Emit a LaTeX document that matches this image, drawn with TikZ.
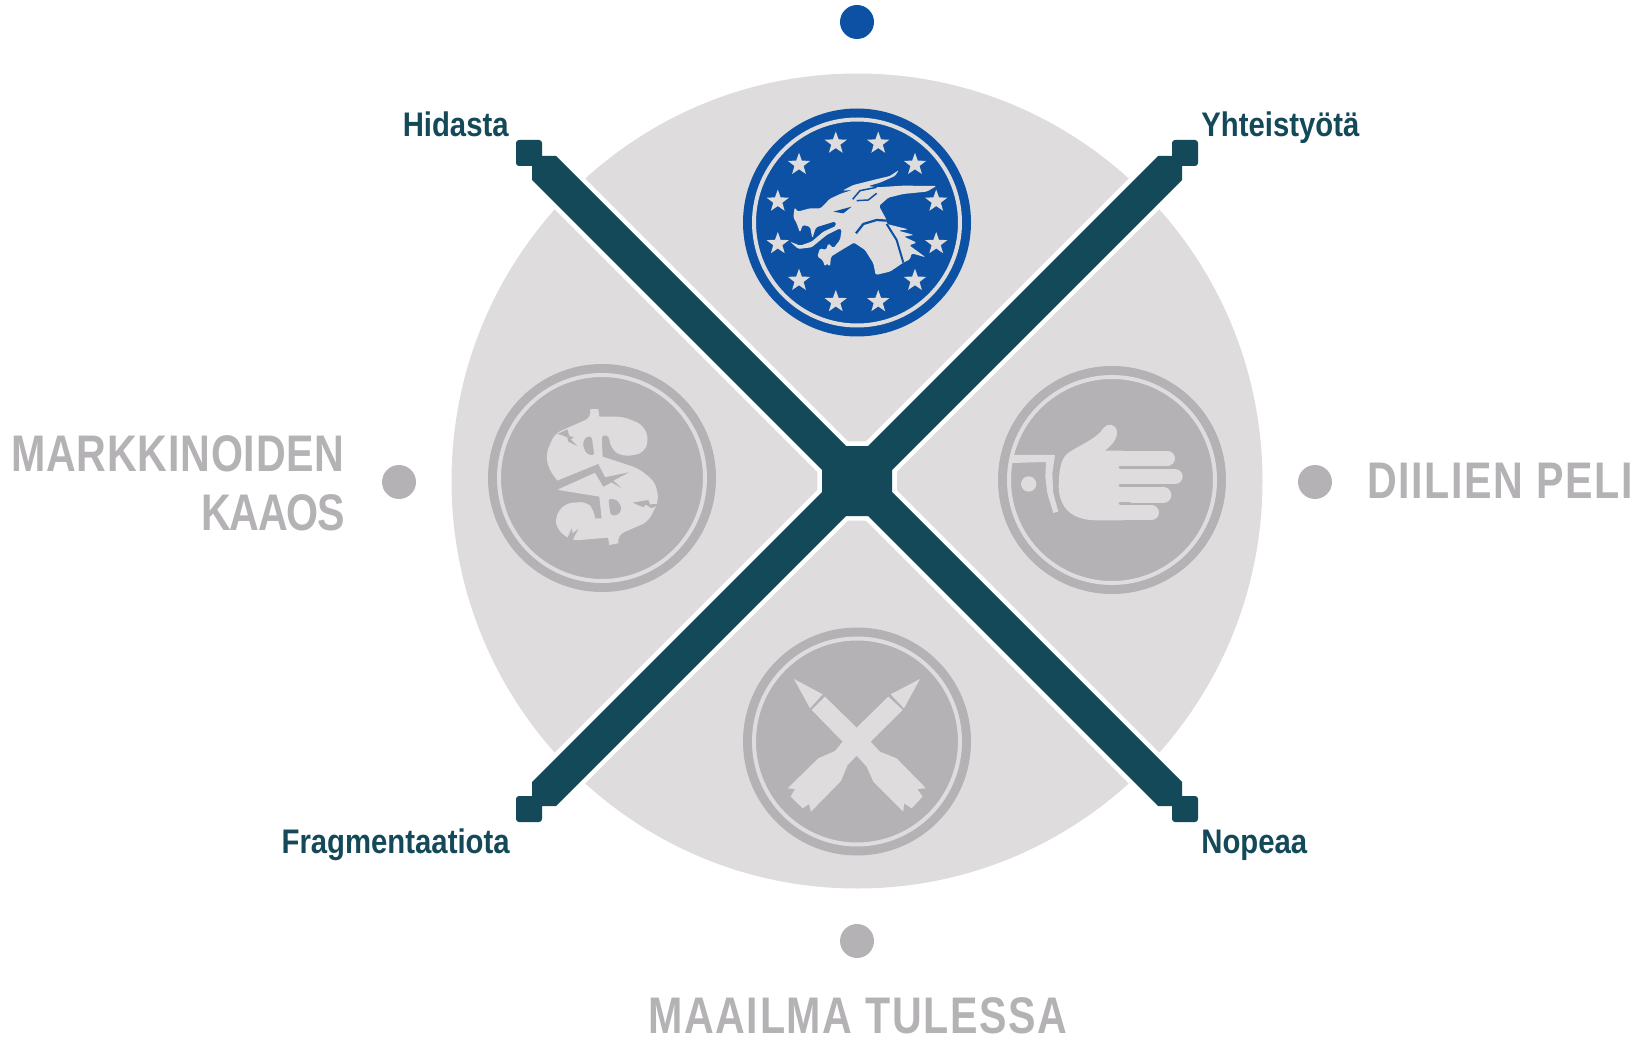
\documentclass[tikz,border=0pt]{standalone}
\usepackage{fontspec}
\setmainfont{Liberation Sans}
\newfontfamily\headfont[FakeStretch=0.80,LetterSpace=3.2]{Liberation Sans}
\newfontfamily\labelfont[FakeStretch=0.86]{Liberation Sans}
\usetikzlibrary{shapes.geometric}
\definecolor{bar teal}{rgb}{0.0745, 0.2863, 0.3451}
\definecolor{euro blue}{rgb}{0.0471, 0.3176, 0.6392}
\definecolor{coin grey}{rgb}{0.7059, 0.6980, 0.7098}
\definecolor{pale grey}{rgb}{0.8706, 0.8627, 0.8627}
\tikzset{
	sidehead/.style={inner sep=0, text=coin grey, font=\headfont\bfseries\fontsize{29.3}{34}\selectfont},
	barlabel/.style={inner sep=0, text=bar teal, font=\labelfont\bfseries\fontsize{19.4}{22}\selectfont},
	eustar/.style={star, star points=5, star point ratio=2.45, minimum size=0.47cm, inner sep=0, fill=pale grey}
}
% one arm of the cross, from the middle out to its end cap
\newcommand{\armpath}{(0,0) -- (-11,-35) -- (-301,-325) -- (-315,-325) [rounded corners=0.06cm] -- (-315,-341) -- (-341,-341) -- (-341,-315) [sharp corners] -- (-325,-315) -- (-325,-301) -- (-35,-11) -- cycle}
\newcommand{\midpath}{(-11,-35) -- (11,-35) -- (35,-11) -- (35,11) -- (11,35) -- (-11,35) -- (-35,11) -- (-35,-11) -- cycle}
\begin{document}
\begin{tikzpicture}[x=0.02cm, y=-0.02cm]
	\useasboundingbox (0,0) rectangle (1651,1037);
	% big disc
	\fill[pale grey] (857,481) ellipse (405.5 and 407.5);
	% cross with a white gap around it
	\begin{scope}[shift={(857,481)}]
		\draw[white, line width=0.19cm, miter limit=10] \midpath;
		\foreach \ang in {0,90,180,270} {
			\draw[white, line width=0.19cm, miter limit=10, rotate=\ang] \armpath;
		}
		\fill[bar teal] \midpath;
		\foreach \ang in {0,90,180,270} {
			\fill[bar teal, rotate=\ang] \armpath;
		}
	\end{scope}
	% coins
	\fill[euro blue] (857,222.5) circle (114);
	\draw[pale grey, line width=0.08cm] (857,222.5) circle (103);
	\foreach \x/\y in {602/478, 1112/480, 857/741.5} {
		\fill[coin grey] (\x,\y) circle (114);
		\draw[pale grey, line width=0.08cm] (\x,\y) circle (103);
	}
	% stars
	\begin{scope}[shift={(857,222.5)}]
		\foreach \ang in {15,45,...,345} {
			\node[eustar] (star\ang) at (\ang:82) {};
		}
	\end{scope}
	% dragon
	\begin{scope}[shift={(730,100)}, scale=0.3333]
		\fill[pale grey, rounded corners=0.03cm] (190,352) -- (194,322) -- (203,335) -- (240,325) -- (272,325) -- (300,296) -- (335,280) -- (368,270)
			-- (337,272) -- (370,255) -- (430,240) -- (480,228) -- (507,210) -- (495,228) -- (450,248) -- (415,258)
			-- (440,262) -- (520,257) -- (620,258) -- (590,275) -- (520,282) -- (475,293) -- (447,318) -- (470,360)
			-- (470,372) -- (535,388) -- (505,392) -- (552,405) -- (522,410) -- (560,428) -- (538,436) -- (587,472)
			-- (545,460) -- (540,478) -- (520,488) -- (480,515) -- (437,525) -- (430,490) -- (405,450) -- (372,428)
			-- (335,450) -- (303,470) -- (300,500) -- (290,490) -- (285,500) -- (278,480) -- (262,470) -- (270,445)
			-- (288,450) -- (295,430) -- (310,445) -- (330,420) -- (335,390) -- (330,385) -- (290,405) -- (245,442)
			-- (205,447) -- (180,425) -- (210,437) -- (245,425) -- (280,395) -- (318,378) -- (316,364) -- (258,382)
			-- (247,415) -- (240,380) -- (218,375) -- (210,398) -- (200,370) -- cycle;
		\fill[euro blue] (310,335) -- (365,320) -- (340,340) -- cycle;
		\draw[euro blue, line width=0.045cm] (378,400) -- (400,372) -- (440,360) -- (470,362);
		\draw[euro blue, line width=0.04cm] (470,372) -- (500,420) -- (520,488);
		\draw[euro blue, line width=0.03cm] (368,298) -- (390,272) -- (440,262);
		\draw[euro blue, line width=0.03cm] (380,302) -- (415,300) -- (440,280);
	\end{scope}
	% broken dollar
	\begin{scope}[shift={(480,360)}, scale=0.3333]
		\fill[pale grey] (330,148) -- (355,147) -- (358,170) [rounded corners=0.14cm] -- (430,170) -- (490,195) -- (507,240) -- (490,280)
			-- (430,290) -- (395,270) [rounded corners=0.06cm] -- (385,226) -- (365,226) [sharp corners] -- (368,290) [rounded corners=0.14cm] -- (475,325)
			-- (525,365) -- (537,420) -- (505,485) -- (413,525) [sharp corners] -- (415,550) -- (388,555) -- (384,533)
			[rounded corners=0.14cm] -- (275,542) -- (232,510) -- (225,470) -- (255,430) -- (320,425) -- (342,450) [sharp corners] -- (345,475)
			-- (365,475) -- (358,410) -- (235,390) -- (232,362) [rounded corners=0.14cm] -- (205,325) -- (198,280)
			-- (225,220) -- (335,172) [sharp corners] -- cycle;
		\fill[coin grey, rounded corners=0.06cm] (335,228) -- (315,232) -- (308,255) -- (320,282) -- (343,287) -- cycle;
		\fill[coin grey, rounded corners=0.06cm] (385,415) -- (412,420) -- (426,445) -- (415,465) -- (392,467) -- cycle;
		\fill[coin grey] (225,365) -- (355,312) -- (375,352) -- (447,337) -- (400,362) -- (425,385) -- (395,367) -- (370,380) -- (345,338) -- (225,392) -- cycle;
		\fill[coin grey] (232,222) -- (262,208) -- (268,228) -- (282,232) -- (272,238) -- (292,258) -- (265,245) -- (262,232) -- (245,225) -- cycle;
		\fill[coin grey] (458,428) -- (505,420) -- (510,433) -- (540,432) -- (515,445) -- (498,434) -- (490,442) -- cycle;
		\fill[coin grey] (262,535) -- (275,505) -- (278,520) -- (295,507) -- (278,540) -- cycle;
	\end{scope}
	% hand with cuff
	\begin{scope}[shift={(990,360)}, scale=0.3333]
		\fill[pale grey] (68,285) -- (195,285) -- (187,340) -- (190,400) -- (205,455) -- (190,459) -- (172,400) -- (166,350) -- (168,306) -- (65,309) -- cycle;
		\fill[pale grey] (116,372) circle (23);
		\fill[pale grey] (345,272) .. controls (365,255) and (382,240) .. (381,215) .. controls (378,190) and (350,188) .. (340,205)
			.. controls (320,235) and (280,250) .. (240,275) .. controls (215,290) and (207,320) .. (206,380)
			.. controls (208,440) and (240,480) .. (320,481) -- (400,481) -- (400,272) -- cycle;
		\draw[pale grey, line cap=round, line width=0.307cm] (380,295) -- (532,295);
		\draw[pale grey, line cap=round, line width=0.307cm] (380,350) -- (555,350);
		\draw[pale grey, line cap=round, line width=0.307cm] (380,405) -- (521,405);
		\draw[pale grey, line cap=round, line width=0.307cm] (380,458) -- (484,458);
		\draw[coin grey, line width=0.06cm, line cap=round] (390,323) -- (420,323) (390,378) -- (420,378) (390,431) -- (420,431);
	\end{scope}
	% crossed pencils
	\begin{scope}[shift={(740,625)}, scale=0.3333]
		\fill[pale grey] (162,162) -- (248,208) -- (210,250) -- cycle;
		\fill[pale grey] (540,162) -- (452,208) -- (492,250) -- cycle;
		\fill[pale grey] (255,215) -- (350,308) -- (445,215) -- (488,255) -- (392,350) -- (420,380) -- (470,400) -- (558,490) -- (532,492)
			-- (548,515) -- (515,550) -- (492,535) -- (490,560) -- (400,470) -- (380,425) -- (350,392) -- (323,420) -- (303,468)
			-- (213,560) -- (207,537) -- (188,550) -- (152,515) -- (165,492) -- (143,490) -- (235,400) -- (285,378) -- (308,350) -- (215,255) -- cycle;
	\end{scope}
	% dots
	\fill[euro blue] (857,22) circle (17);
	\fill[coin grey] (399,482) circle (17);
	\fill[coin grey] (1315,482) circle (17);
	\fill[coin grey] (857,941) circle (17);
	% heads and labels
	\node[sidehead, anchor=base east] (markkinat) at (345,471) {\addfontfeature{LetterSpace=1.5}MARKKINOIDEN};
	\node[sidehead, anchor=base east] (kaaos) at (345,530) {\addfontfeature{LetterSpace=-2.7}KAAOS};
	\node[sidehead, anchor=base west] (diilit) at (1367,499) {DIILIEN PELI};
	\node[sidehead, anchor=base] (maailma) at (858,1033.5) {MAAILMA TULESSA};
	\node[barlabel, anchor=base east] (hidasta) at (509,137) {Hidasta};
	\node[barlabel, anchor=base west] (yhteistyo) at (1201,137) {Yhteistyötä};
	\node[barlabel, anchor=base east] (fragment) at (510,853) {Fragmentaatiota};
	\node[barlabel, anchor=base west] (nopeaa) at (1201,853) {Nopeaa};
\end{tikzpicture}
\end{document}
